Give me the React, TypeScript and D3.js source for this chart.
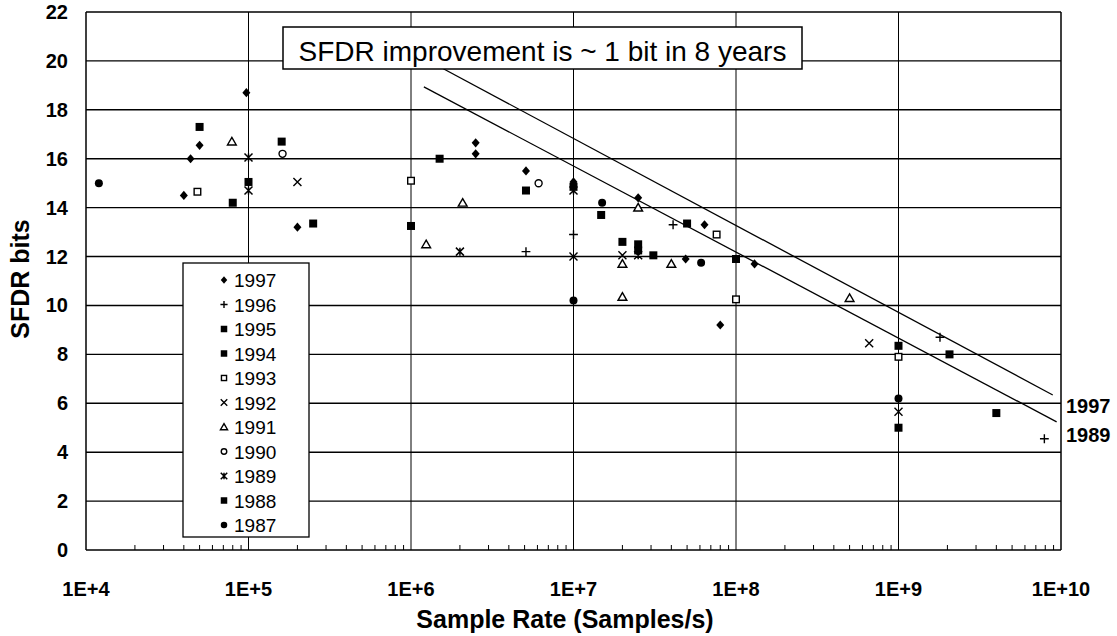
import React from "react";
import * as d3 from "d3";

// ---------- data ----------
const xTickValues = [1e4, 1e5, 1e6, 1e7, 1e8, 1e9, 1e10];
const xTickLabels = ["1E+4", "1E+5", "1E+6", "1E+7", "1E+8", "1E+9", "1E+10"];
const yTickValues = [0, 2, 4, 6, 8, 10, 12, 14, 16, 18, 20, 22];

const years = ["1997", "1996", "1995", "1994", "1993", "1992", "1991", "1990", "1989", "1988", "1987"];
const markerTypes = ["diamond", "plus", "square", "square", "openSquare", "cross", "triangle", "openCircle", "asterisk", "square", "circle"];

const s1997 = [[4.0e4, 14.5], [4.4e4, 16.0], [5.0e4, 16.55], [9.7e4, 18.7], [2.0e5, 13.2], [2.5e6, 16.65], [2.5e6, 16.2], [5.1e6, 15.5], [1.0e7, 15.05], [2.5e7, 14.4], [4.9e7, 11.9], [6.4e7, 13.3], [8.0e7, 9.2], [1.3e8, 11.7]];
const s1996 = [[5.1e6, 12.2], [1.0e7, 12.9], [4.1e7, 13.3], [1.8e9, 8.7], [7.9e9, 4.55]];
const s1995 = [[5.0e4, 17.3], [1.6e5, 16.7], [1.5e6, 16.0], [5.1e6, 14.7], [2.0e7, 12.6], [5.0e7, 13.35], [1.0e8, 11.9], [2.06e9, 8.0]];
const s1994 = [[8.0e4, 14.2], [1.0e5, 15.05], [2.5e5, 13.35], [1.0e6, 13.25], [1.48e7, 13.7], [2.5e7, 12.5], [1.0e9, 8.35], [4.0e9, 5.6]];
const s1993 = [[4.85e4, 14.65], [1.0e6, 15.1], [7.6e7, 12.9], [1.0e8, 10.25], [1.0e9, 7.9]];
const s1992 = [[2.0e5, 15.05], [1.0e7, 12.0], [2.0e7, 12.05], [6.6e8, 8.45], [1.0e9, 5.65]];
const s1991 = [[7.9e4, 16.7], [1.24e6, 12.5], [2.08e6, 14.2], [2.0e7, 11.7], [2.0e7, 10.35], [2.5e7, 14.0], [4.0e7, 11.7], [5.0e8, 10.3]];
const s1990 = [[1.62e5, 16.2], [6.1e6, 15.0]];
const s1989 = [[1.0e5, 16.05], [1.0e5, 14.7], [2.0e6, 12.2], [1.0e7, 14.7], [2.5e7, 12.05]];
const s1988 = [[1.0e7, 14.85], [2.5e7, 12.25], [3.1e7, 12.05], [1.0e9, 5.0]];
const s1987 = [[1.2e4, 15.0], [1.5e7, 14.2], [6.1e7, 11.75], [1.0e7, 10.2], [1.0e9, 6.2]];

const seriesData = [s1997, s1996, s1995, s1994, s1993, s1992, s1991, s1990, s1989, s1988, s1987];

const trend1997 = [[1.51e6, 19.75], [8.9e9, 6.34]];
const trend1989 = [[1.2e6, 18.94], [9.4e9, 5.24]];

const annotationText = "SFDR improvement is ~ 1 bit in 8 years";
const xTitle = "Sample Rate (Samples/s)";
const yTitle = "SFDR bits";

// ---------- layout ----------
const W = 1117;
const H = 636;
const FONT = "'Liberation Sans', Arial, Helvetica, sans-serif";

const x = d3.scaleLog().domain([1e4, 1e10]).range([86, 1061]);
const y = d3.scaleLinear().domain([0, 22]).range([550, 12]);

function Marker({ type, cx, cy, s }: { type: string; cx: number; cy: number; s: number }) {
  const h = s / 2;
  switch (type) {
    case "diamond":
      return <path d={`M${cx},${cy - h * 1.15}L${cx + h},${cy}L${cx},${cy + h * 1.15}L${cx - h},${cy}Z`} fill="#000" />;
    case "plus":
      return (
        <path d={`M${cx - h * 1.1},${cy}H${cx + h * 1.1}M${cx},${cy - h * 1.1}V${cy + h * 1.1}`} stroke="#000" strokeWidth={1.4} fill="none" />
      );
    case "square":
      return <rect x={cx - h} y={cy - h} width={s} height={s} fill="#000" />;
    case "openSquare":
      return <rect x={cx - h + 0.7} y={cy - h + 0.7} width={s - 1.4} height={s - 1.4} fill="#fff" stroke="#000" strokeWidth={1.4} />;
    case "cross":
      return (
        <path d={`M${cx - h},${cy - h}L${cx + h},${cy + h}M${cx - h},${cy + h}L${cx + h},${cy - h}`} stroke="#000" strokeWidth={1.4} fill="none" />
      );
    case "triangle":
      return (
        <path d={`M${cx},${cy - h * 1.05}L${cx + h * 1.1},${cy + h * 0.85}L${cx - h * 1.1},${cy + h * 0.85}Z`} fill="#fff" stroke="#000" strokeWidth={1.4} />
      );
    case "openCircle":
      return <circle cx={cx} cy={cy} r={h - 0.5} fill="#fff" stroke="#000" strokeWidth={1.4} />;
    case "asterisk":
      return (
        <path
          d={`M${cx - h},${cy - h}L${cx + h},${cy + h}M${cx - h},${cy + h}L${cx + h},${cy - h}M${cx},${cy - h}V${cy + h}`}
          stroke="#000"
          strokeWidth={1.5}
          fill="none"
        />
      );
    case "circle":
      return <circle cx={cx} cy={cy} r={h} fill="#000" />;
    default:
      return null;
  }
}

export default function App() {
  const x0 = x.range()[0];
  const x1 = x.range()[1];
  const y0 = y.range()[0];
  const y1 = y.range()[1];

  const minorTicks: number[] = [];
  for (let d = 4; d < 10; d++) {
    for (let k = 2; k <= 9; k++) minorTicks.push(k * Math.pow(10, d));
  }

  const line = d3
    .line<number[]>()
    .x((d) => x(d[0]))
    .y((d) => y(d[1]));

  // annotation box
  const boxX = 283, boxY = 27, boxW = 519, boxH = 42;
  // legend box
  const legX = 183, legY = 263, legW = 126, legH = 274;

  return (
    <svg width={W} height={H} style={{ position: "absolute", left: 0, top: 0, background: "#fff" }} fontFamily={FONT}>
      <rect x={0} y={0} width={W} height={H} fill="#fff" />

      {/* horizontal gridlines */}
      {yTickValues.map((v) => (
        <line key={"hg" + v} x1={x0} x2={x1} y1={y(v)} y2={y(v)} stroke="#000" strokeWidth={1.4} />
      ))}
      {/* vertical gridlines */}
      {xTickValues.map((v, i) => (
        <line
          key={"vg" + v}
          x1={x(v)}
          x2={x(v)}
          y1={y0}
          y2={y1}
          stroke="#000"
          strokeWidth={i === 0 || i === xTickValues.length - 1 ? 1.5 : 1}
        />
      ))}
      {/* minor ticks */}
      {minorTicks.map((v) => (
        <line key={"mt" + v} x1={x(v)} x2={x(v)} y1={y0} y2={y0 - 5} stroke="#000" strokeWidth={1} />
      ))}

      {/* y tick labels */}
      {yTickValues.map((v) => (
        <text key={"yl" + v} x={68} y={y(v) + 7} textAnchor="end" fontSize={20} fontWeight="bold" fill="#000">
          {v}
        </text>
      ))}
      {/* x tick labels */}
      {xTickValues.map((v, i) => (
        <text key={"xl" + v} x={x(v)} y={596} textAnchor="middle" fontSize={20} fontWeight="bold" fill="#000">
          {xTickLabels[i]}
        </text>
      ))}

      {/* axis titles */}
      <text x={565} y={628} textAnchor="middle" fontSize={25} fontWeight="bold" fill="#000">
        {xTitle}
      </text>
      <text
        transform={`translate(29,279) rotate(-90)`}
        textAnchor="middle"
        fontSize={25}
        fontWeight="bold"
        fill="#000"
      >
        {yTitle}
      </text>

      {/* trend lines */}
      <path d={line(trend1997 as any) || ""} stroke="#000" strokeWidth={1.3} fill="none" />
      <path d={line(trend1989 as any) || ""} stroke="#000" strokeWidth={1.3} fill="none" />
      <text x={1066} y={413} fontSize={20} fontWeight="bold" fill="#000">1997</text>
      <text x={1066} y={442} fontSize={20} fontWeight="bold" fill="#000">1989</text>

      {/* data points */}
      {seriesData.map((pts, si) =>
        pts.map((p, pi) => (
          <Marker key={`p${si}-${pi}`} type={markerTypes[si]} cx={x(p[0])} cy={y(p[1])} s={8} />
        ))
      )}

      {/* annotation */}
      <rect x={boxX} y={boxY} width={boxW} height={boxH} fill="#fff" stroke="#000" strokeWidth={1.5} />
      <text x={boxX + boxW / 2} y={boxY + 34} textAnchor="middle" fontSize={28} fill="#000">
        {annotationText}
      </text>

      {/* legend */}
      <rect x={legX} y={legY} width={legW} height={legH} fill="#fff" stroke="#000" strokeWidth={1.3} />
      {years.map((yr, i) => {
        const cy = legY + 17 + i * 24.5;
        return (
          <g key={"lg" + yr}>
            <Marker type={markerTypes[i]} cx={224} cy={cy} s={6.5} />
            <text x={234} y={cy + 7} fontSize={19} fill="#000">
              {yr}
            </text>
          </g>
        );
      })}
    </svg>
  );
}
